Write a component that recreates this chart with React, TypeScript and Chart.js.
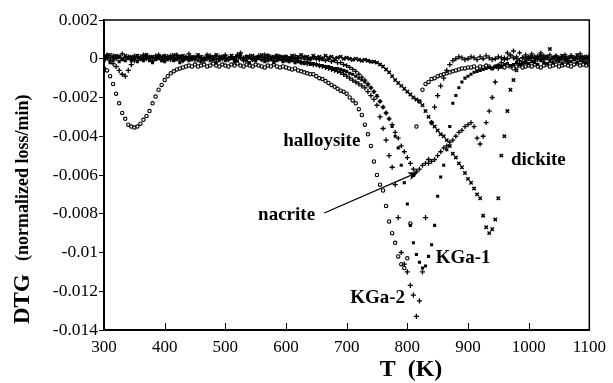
import React, { useEffect, useRef } from 'react';
import { Chart, registerables } from 'chart.js';

Chart.register(...registerables);

// Temperature grid (K)
const temperatures = [
  300, 305, 310, 315, 320, 325, 330, 335, 340, 345,
  350, 355, 360, 365, 370, 375, 380, 385, 390, 395,
  400, 405, 410, 415, 420, 425, 430, 435, 440, 445,
  450, 455, 460, 465, 470, 475, 480, 485, 490, 495,
  500, 505, 510, 515, 520, 525, 530, 535, 540, 545,
  550, 555, 560, 565, 570, 575, 580, 585, 590, 595,
  600, 605, 610, 615, 620, 625, 630, 635, 640, 645,
  650, 655, 660, 665, 670, 675, 680, 685, 690, 695,
  700, 705, 710, 715, 720, 725, 730, 735, 740, 745,
  750, 755, 760, 765, 770, 775, 780, 785, 790, 795,
  800, 805, 810, 815, 820, 825, 830, 835, 840, 845,
  850, 855, 860, 865, 870, 875, 880, 885, 890, 895,
  900, 905, 910, 915, 920, 925, 930, 935, 940, 945,
  950, 955, 960, 965, 970, 975, 980, 985, 990, 995,
  1000, 1005, 1010, 1015, 1020, 1025, 1030, 1035, 1040, 1045,
  1050, 1055, 1060, 1065, 1070, 1075, 1080, 1085, 1090, 1095,
  1100,
];

// DTG values in units of 1e-4 (normalized loss/min)
const halloysite = [
  -5, -6, -9, -13, -18, -23, -28, -31, -34, -35,
  -35.5, -35, -33.5, -31.5, -29.5, -27, -23, -19.5, -16, -13.5,
  -11, -9, -7.5, -6.5, -5.5, -5, -4.5, -4, -3.5, -4,
  -3, -4, -3.5, -3, -4, -3.5, -2.5, -3.5, -4, -3,
  -3.5, -4, -3, -3.5, -2.5, -3.5, -4, -3, -3.5, -4,
  -3, -3.5, -4, -4.5, -3.5, -4, -3, -4, -4.5, -4,
  -4.5, -5, -5.5, -5, -6, -6.5, -7, -7.5, -8, -8,
  -9, -10, -10.5, -11.5, -12.5, -13.5, -14.5, -15.5, -16.5, -17,
  -18, -20, -21.5, -23, -26, -29, -34, -39, -45, -53,
  -60, -65, -68, -76, -84, -90, -95, -102, -106, -108,
  -103, -85, -60, -35, -22, -16, -13, -12, -10.5, -10,
  -9, -8.5, -8, -7.5, -7, -6.5, -6, -5.5, -5, -5,
  -4.5, -4.5, -4, -5, -4, -4.5, -3.5, -4, -5, -4,
  -3.5, -4, -4.5, -3.5, -4, -5, -4, -3.5, -4.5, -4,
  -3.5, -4, -3, -4, -4.5, -3.5, -3, -4, -3.5, -3,
  -4, -3.5, -3, -3.5, -4, -3, -2.5, -3.5, -3, -3.5,
  -3,
];

const kga2 = [
  0.5, 1.5, -1, -2.5, -4, -6, -8, -9, -6, -3,
  -1, 1, 0, -0.5, 1.5, 0, -1, 0.5, 1, -0.5,
  0, 1, -0.5, 0.5, 1.5, 0, -1, 0.5, 1, 0,
  -0.5, 1, 0.5, -1, 0, 1.5, 0.5, -0.5, 1, 0,
  0.5, -0.5, 1, 0, 2, 0.5, -1, 0.5, 1, -0.5,
  0, 1, -0.5, 0.5, 1.5, 0, -1, 0, 1, -0.5,
  -0.5, -1, 0, -1.5, -1, -2, -1.5, -2.5, -2, -3,
  -3, -3.5, -4, -4.5, -5, -5.5, -6, -6.5, -7, -8,
  -9, -10, -11, -12, -13, -14, -15, -17, -19, -21,
  -24, -30, -36, -42, -50, -56, -65, -82, -100, -106,
  -110, -117, -122, -133, -125, -110, -82, -52, -33, -25,
  -19, -14, -10, -6, -3, -1, 0, 1, 0.5, -0.5,
  0, 1, 0.5, -0.5, 1, 0, 1.5, 0.5, -0.5, 0,
  1, 0.5, -0.5, 0, 1.5, 0.5, 0, -1, 0.5, 1,
  0, 0.5, 1, -0.5, 0, 1.5, 0.5, -0.5, 0, 1,
  0.5, -0.5, 1, 0, 1.5, 0.5, 0, 1, -0.5, 0.5,
  1,
];

const kga1 = [
  -1, 0, -2, -1, 0.5, -1.5, -0.5, -1, 0, -1,
  -0.5, -1.5, 0, -1, 0.5, -1, -2, -0.5, 0, -1,
  -1.5, -0.5, 0.5, -1, -0.5, -2, -1, 0, -1, -0.5,
  0, -1, -1.5, -0.5, 0.5, -1, -0.5, -2, -1, 0,
  -1, -0.5, 0, -1.5, -1, 0.5, -0.5, -1, -2, -0.5,
  -1, 0, -0.5, -1.5, -1, -0.5, -2, -1, -0.5, -1.5,
  -1, -1.5, -1, -2, -1.5, -2, -2.5, -2, -3, -2.5,
  -3, -3.5, -3.5, -4, -4, -4.5, -5, -5, -5.5, -6,
  -6.5, -7.5, -8, -9, -10, -11, -12, -13.5, -15, -17,
  -19, -22, -25, -28, -31, -35, -40, -46, -55, -64,
  -75, -86, -95, -101, -105, -108, -107, -102, -96, -86,
  -71, -61, -55, -47, -35, -23, -19, -15, -12, -10,
  -9, -8, -7, -6.5, -6, -5.5, -5, -4.5, -5, -4,
  -3.5, -4, -3, -2.5, -3.5, -3, -2, -3, -2.5, -2,
  -2.5, -1.5, -2, -3, -1, -2, -2.5, -1.5, -2, -1,
  -1.5, -2.5, -1, -2, -1.5, -0.5, -2, -1, -1.5, -2,
  -1,
];

const nacrite = [
  1, 2, 0.5, 1.5, 0, 1, 2.5, 0.5, 1, 0,
  1.5, 0.5, 1, 2, 0, 1, 0.5, 1.5, 2, 0.5,
  1, 0, 1.5, 0.5, 2, 1, 0, 1, 2.5, 0.5,
  1, 1.5, 0, 0.5, 2, 1, 0.5, 1.5, 0, 1,
  2, 0.5, 1, 0, 1.5, 3, 0.5, 1, 1.5, 0,
  0.5, 1.5, 1, 2, 0, 1, 0.5, 1.5, 1, 0.5,
  1, 0, 0.5, 1.5, 0, 0.5, 1, -0.5, 0, 0.5,
  0, -0.5, 0, -1, -0.5, -1.5, -1, -2, -2, -3,
  -3.5, -4.5, -5.5, -6.5, -8, -9.5, -11, -13, -15, -17,
  -19.5, -22, -25, -28, -31, -34, -38, -41, -45, -48,
  -51, -54, -57, -58, -57, -55, -54, -54, -53, -52,
  -50, -48, -46, -45, -43, -42, -40, -38, -37, -35,
  -34, -33, -35, -41, -44, -40, -33, -27, -20, -12,
  -5, -2, 0.5, 3, 2, 4, 1, 3, 0.5, 2,
  1, 2.5, 0.5, 1.5, 3, 0, 1, 2, 0.5, 1.5,
  0, 1, 2, 0.5, 1.5, 0, 1, 2.5, 0.5, 1,
  1.5,
];

const dickite = [
  0, 1, 2, 0.5, 1.5, 1, 0, 1.5, 0.5, 1,
  0.5, 1.5, 0, 1, 2, 0.5, 1, 0, 1.5, 1,
  1.5, 0.5, 1, 2, 0, 1, 1.5, 0.5, 0, 1,
  0.5, 2, 1, 0, 1.5, 0.5, 1, 2, 0.5, 1,
  1, 0, 1.5, 0.5, 1, 2, 0, 1, 0.5, 1.5,
  0.5, 1, 2, 0, 1.5, 0.5, 1, 1.5, 0, 1,
  1, 0.5, 1.5, 0, 1, 2, 0.5, 1, 0, 1.5,
  0.5, 1, 0, 1.5, 0.5, 1, 0, 0.5, 1, 0,
  0.5, 0, -0.5, 0, -0.5, -1, -0.5, -1, -1.5, -1.5,
  -2, -3, -4, -5.5, -7, -9, -11, -12.5, -14, -15.5,
  -17, -18.5, -20, -21, -22, -24, -27, -30, -33, -35,
  -37, -39, -40, -42, -45, -49, -51, -54, -56, -59,
  -62, -64, -67, -70, -72, -81, -87, -90, -88, -83,
  -72, -50, -40, -27, -16, -11, -6, -3, -2, -1,
  0, 1, -0.5, 0.5, 1.5, 0, 1, 5, 0.5, 1,
  0, 1.5, 0.5, -0.5, 1, 0, 2, 0.5, 1, 0,
  0.5,
];

const xTickValues = [300, 400, 500, 600, 700, 800, 900, 1000, 1100];
const xTickLabels = ['300', '400', '500', '600', '700', '800', '900', '1000', '1100'];
const yTickValues = [-0.014, -0.012, -0.01, -0.008, -0.006, -0.004, -0.002, 0, 0.002];
const yTickLabels = ['-0.014', '-0.012', '-0.01', '-0.008', '-0.006', '-0.004', '-0.002', '0', '0.002'];

const seriesNames = ['halloysite', 'KGa-2', 'KGa-1', 'nacrite', 'dickite'];

const toPoints = (vals: number[]) =>
  vals.map((v, i) => ({ x: temperatures[i], y: v / 10000 }));

// Annotation anchors in data coordinates
const curveLabels = [
  { text: 'halloysite', x: 659, y: -0.00424 },
  { text: 'dickite', x: 1016, y: -0.00522 },
  { text: 'nacrite', x: 601, y: -0.00807 },
  { text: 'KGa-1', x: 892, y: -0.01029 },
  { text: 'KGa-2', x: 751, y: -0.01236 },
];
const arrowFrom = { x: 663, y: -0.00796 };
const arrowTo = { x: 819, y: -0.00584 };

const FONT = '"Liberation Serif", "Times New Roman", serif';

const decorPlugin = {
  id: 'decor',
  afterDraw(chart: any) {
    const { ctx, chartArea: a, scales } = chart;
    const xs = scales.x;
    const ys = scales.y;
    ctx.save();
    ctx.strokeStyle = '#000';
    ctx.fillStyle = '#000';
    // frame
    ctx.lineWidth = 1.5;
    ctx.strokeRect(a.left, a.top, a.right - a.left, a.bottom - a.top);
    // inward x ticks
    ctx.lineWidth = 1;
    xTickValues.forEach((v) => {
      const px = Math.round(xs.getPixelForValue(v)) + 0.5;
      ctx.beginPath();
      ctx.moveTo(px, a.bottom);
      ctx.lineTo(px, a.bottom - 7);
      ctx.stroke();
    });
    // curve labels
    ctx.font = `bold 19px ${FONT}`;
    ctx.textAlign = 'center';
    ctx.textBaseline = 'middle';
    curveLabels.forEach((l) => {
      ctx.fillText(l.text, xs.getPixelForValue(l.x), ys.getPixelForValue(l.y));
    });
    // arrow
    const x1 = xs.getPixelForValue(arrowFrom.x);
    const y1 = ys.getPixelForValue(arrowFrom.y);
    const x2 = xs.getPixelForValue(arrowTo.x);
    const y2 = ys.getPixelForValue(arrowTo.y);
    const ang = Math.atan2(y2 - y1, x2 - x1);
    const hl = 11;
    const hw = 4;
    ctx.lineWidth = 1.2;
    ctx.beginPath();
    ctx.moveTo(x1, y1);
    ctx.lineTo(x2 - hl * 0.8 * Math.cos(ang), y2 - hl * 0.8 * Math.sin(ang));
    ctx.stroke();
    ctx.beginPath();
    ctx.moveTo(x2, y2);
    ctx.lineTo(x2 - hl * Math.cos(ang) + hw * Math.sin(ang), y2 - hl * Math.sin(ang) - hw * Math.cos(ang));
    ctx.lineTo(x2 - hl * 0.75 * Math.cos(ang), y2 - hl * 0.75 * Math.sin(ang));
    ctx.lineTo(x2 - hl * Math.cos(ang) - hw * Math.sin(ang), y2 - hl * Math.sin(ang) + hw * Math.cos(ang));
    ctx.closePath();
    ctx.fill();
    // x title
    ctx.font = `bold 24px ${FONT}`;
    ctx.textAlign = 'center';
    ctx.textBaseline = 'alphabetic';
    ctx.fillText('T  (K)', 411, 376);
    // y title
    ctx.translate(23, 0);
    ctx.rotate(-Math.PI / 2);
    ctx.textAlign = 'left';
    ctx.textBaseline = 'middle';
    ctx.font = `bold 23px ${FONT}`;
    ctx.fillText('DTG', -324, 0);
    ctx.font = `bold 18px ${FONT}`;
    ctx.fillText('(normalized loss/min)', -261, 0);
    ctx.restore();
  },
};

export default function App() {
  const ref = useRef<HTMLCanvasElement>(null);
  useEffect(() => {
    document.body.style.margin = '0';
    const canvas = ref.current;
    if (!canvas) return;
    const styles = [
      { pointStyle: 'circle', pointRadius: 1.7, borderWidth: 1.1, backgroundColor: 'rgba(255,255,255,0)' },
      { pointStyle: 'cross', pointRadius: 2.6, borderWidth: 1.3, backgroundColor: '#000' },
      { pointStyle: 'rect', pointRadius: 2.2, borderWidth: 0, backgroundColor: '#000' },
      { pointStyle: 'cross', pointRadius: 2.4, borderWidth: 1.3, backgroundColor: '#000' },
      { pointStyle: 'crossRot', pointRadius: 2.4, borderWidth: 1.5, backgroundColor: '#000' },
    ];
    const all = [halloysite, kga2, kga1, nacrite, dickite];
    const chart = new Chart(canvas, {
      type: 'scatter',
      data: {
        datasets: all.map((vals, i) => ({
          label: seriesNames[i],
          data: toPoints(vals),
          showLine: false,
          borderColor: '#000',
          pointStyle: styles[i].pointStyle as any,
          pointRadius: styles[i].pointRadius,
          pointBorderWidth: styles[i].borderWidth,
          pointBackgroundColor: styles[i].backgroundColor,
          pointBorderColor: '#000',
        })),
      },
      options: {
        responsive: false,
        animation: false,
        events: [],
        layout: { padding: { top: 20, right: 22, left: 0, bottom: 0 } },
        plugins: { legend: { display: false }, tooltip: { enabled: false } },
        scales: {
          x: {
            type: 'linear',
            min: 300,
            max: 1100,
            afterBuildTicks: (s: any) => {
              s.ticks = xTickValues.map((v) => ({ value: v }));
            },
            afterFit: (s: any) => {
              s.height = 53;
            },
            ticks: {
              color: '#000',
              font: { family: FONT, size: 17 },
              padding: 7,
              maxRotation: 0,
              autoSkip: false,
              callback: (_v: any, i: number) => xTickLabels[i],
            },
            grid: { display: false, drawTicks: false },
            border: { display: true, color: '#000', width: 2 },
          },
          y: {
            type: 'linear',
            min: -0.014,
            max: 0.002,
            afterBuildTicks: (s: any) => {
              s.ticks = yTickValues.map((v) => ({ value: v }));
            },
            afterFit: (s: any) => {
              s.width = 104;
            },
            ticks: {
              color: '#000',
              font: { family: FONT, size: 17.5 },
              padding: 1,
              autoSkip: false,
              callback: (_v: any, i: number) => yTickLabels[i],
            },
            grid: { display: true, drawOnChartArea: false, drawTicks: true, tickLength: 5, color: '#000', lineWidth: 1 },
            border: { display: true, color: '#000', width: 2 },
          },
        },
      },
      plugins: [decorPlugin],
    });
    return () => chart.destroy();
  }, []);
  return <canvas ref={ref} width={613} height={383} style={{ display: 'block' }} />;
}
